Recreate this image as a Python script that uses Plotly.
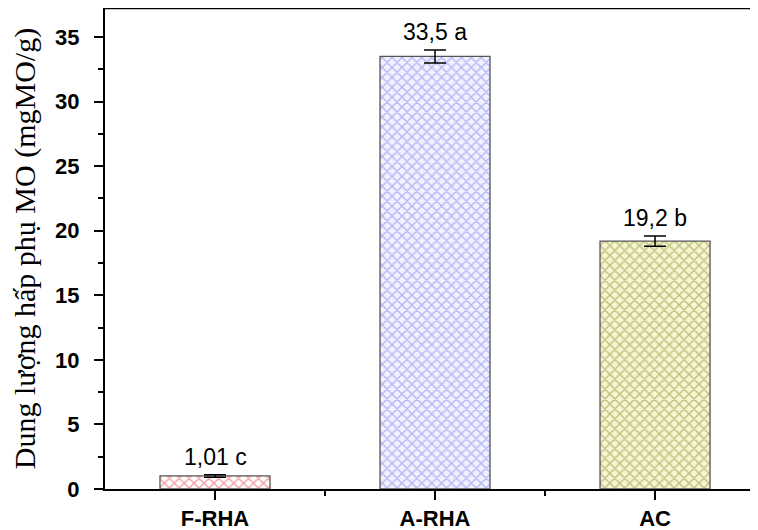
import plotly.graph_objects as go

categories = ["F-RHA", "A-RHA", "AC"]
values = [1.01, 33.5, 19.2]
errors = [0.1, 0.5, 0.4]
labels = ["1,01 c", "33,5 a", "19,2 b"]
fg_colors = ["#e8404c", "#7c7cf0", "#8c8c30"]
bg_colors = ["#ffffff", "#f2f2ff", "#f6f6d2"]
y_ticks = [0, 5, 10, 15, 20, 25, 30, 35]

xpos = list(range(len(categories)))

fig = go.Figure()
for i in xpos:
    fig.add_trace(go.Bar(
        x=[xpos[i]], y=[values[i]], width=0.5,
        marker=dict(
            color=bg_colors[i],
            line=dict(color="#555555", width=1.3),
            pattern=dict(shape="x", fgcolor=fg_colors[i], bgcolor=bg_colors[i],
                         size=7, solidity=0.38, fillmode="overlay"),
        ),
        error_y=dict(type="data", array=[errors[i]], color="black", thickness=1.5, width=11),
        showlegend=False,
    ))
    fig.add_annotation(x=xpos[i], y=values[i] + errors[i], text=labels[i], showarrow=False,
                       yanchor="bottom", yshift=3,
                       font=dict(family="Arial, Liberation Sans", size=23, color="black"))

# top frame line (right side is cropped in the reference)
fig.add_shape(type="line", xref="paper", yref="paper", x0=0, x1=1.02, y0=1, y1=1,
              line=dict(color="black", width=2.5), layer="above")

# page body has an 8px margin; size and margins compensate for it
fig.update_layout(
    width=750, height=522,
    margin=dict(l=97, r=0, t=0, b=41),
    plot_bgcolor="white", paper_bgcolor="white",
    bargap=0.5,
)
fig.update_xaxes(
    range=[-0.5, 2.468], tickvals=xpos, ticktext=categories, automargin=False,
    showline=True, linecolor="black", linewidth=2,
    ticks="outside", ticklen=9, tickwidth=2, tickcolor="black",
    minor=dict(tickvals=[0.5, 1.5], ticks="outside", ticklen=5, tickwidth=2, tickcolor="black"),
    showgrid=False, zeroline=False, ticklabelstandoff=0,
    tickfont=dict(family="Arial, Liberation Sans", size=22, color="black", weight="bold"),
)
fig.update_yaxes(
    range=[0, 37.25], tickvals=y_ticks, automargin=False,
    showline=True, linecolor="black", linewidth=2,
    ticks="outside", ticklen=9, tickwidth=2, tickcolor="black",
    minor=dict(dtick=2.5, tick0=0, ticks="outside", ticklen=5, tickwidth=2, tickcolor="black"),
    showgrid=False, zeroline=False, ticklabelstandoff=10,
    tickfont=dict(family="Arial, Liberation Sans", size=22, color="black", weight="bold"),
    title=dict(text="Dung lượng hấp phụ MO (mgMO/g)",
               font=dict(family="Times New Roman, Liberation Serif", size=30, color="black"),
               standoff=16),
)

fig.write_html("out.html", config={"displayModeBar": False})
